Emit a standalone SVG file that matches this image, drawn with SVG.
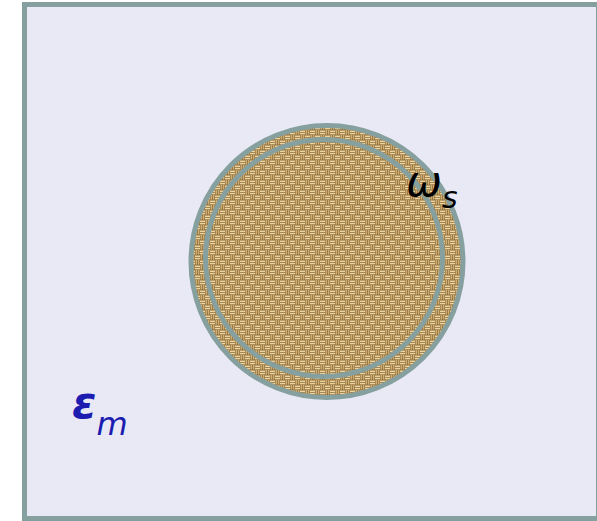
<svg xmlns="http://www.w3.org/2000/svg" width="597" height="521" viewBox="0 0 597 521">
<style>
.ring{fill:none;stroke:#86a0a0;stroke-width:5}
.lbl{font-family:"DejaVu Sans","Liberation Sans",sans-serif;font-style:italic}
.lt{fill:#ecd49c}
.md{fill:#cfae70}
</style>
<defs>
<pattern id="burlap" width="10" height="10" patternUnits="userSpaceOnUse">
<rect width="10" height="10" fill="#866638"/>
<rect class="lt" x="0" y="0.5" width="5" height="1.6"/>
<rect class="lt" x="0" y="2.8" width="5" height="1.6"/>
<rect class="md" x="5.5" y="0" width="1.6" height="4.6"/>
<rect class="md" x="7.8" y="0" width="1.6" height="4.6"/>
<rect class="lt" x="5" y="5.5" width="5" height="1.6"/>
<rect class="lt" x="5" y="7.8" width="5" height="1.6"/>
<rect class="md" x="0.5" y="5" width="1.6" height="4.6"/>
<rect class="md" x="2.8" y="5" width="1.6" height="4.6"/>
</pattern>
</defs>
<rect x="0" y="0" width="597" height="521" fill="#ffffff"/>
<g id="domain">
<rect x="24.5" y="4.5" width="574" height="514" fill="#e9e9f6" stroke="#86a0a0" stroke-width="5"/>
</g>
<g id="scatterer">
<circle cx="327" cy="261.5" r="136" fill="url(#burlap)"/>
<circle class="ring" cx="327" cy="261.5" r="136"/>
<circle class="ring" cx="324" cy="258" r="118.5"/>
</g>
<g id="labels">
<text class="lbl" x="406" y="196" font-size="43" fill="#000000">ω<tspan font-size="30" dy="12">s</tspan></text>
<text class="lbl" x="72" y="418" font-size="44" font-weight="bold" fill="#1c1cb0">ε<tspan font-size="32" font-weight="normal" dy="17">m</tspan></text>
</g>
</svg>
